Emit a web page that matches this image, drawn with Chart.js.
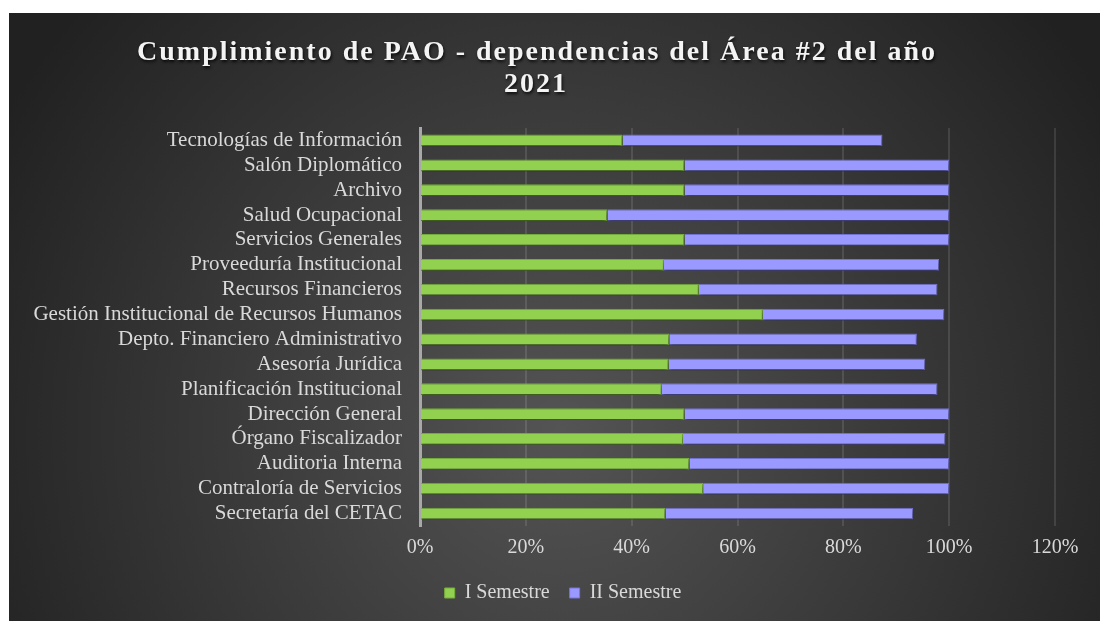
<!DOCTYPE html>
<html>
<head>
<meta charset="utf-8">
<script src="https://cdn.jsdelivr.net/npm/chart.js@4/dist/chart.umd.min.js"></script>
<style>
  html, body { margin: 0; padding: 0; background: #fff; }
  #wrap { width: 1100px; height: 621px; }
</style>
</head>
<body>
<div id="wrap"><canvas id="paoChart" width="1100" height="621"></canvas></div>
<script>
// datos del gráfico (en %)
const titleLines = ['Cumplimiento de PAO - dependencias del Área #2 del año', '2021'];
const categories = [
    'Tecnologías de Información',
    'Salón Diplomático',
    'Archivo',
    'Salud Ocupacional',
    'Servicios Generales',
    'Proveeduría Institucional',
    'Recursos Financieros',
    'Gestión Institucional de Recursos Humanos',
    'Depto. Financiero Administrativo',
    'Asesoría Jurídica',
    'Planificación Institucional',
    'Dirección General',
    'Órgano Fiscalizador',
    'Auditoria Interna',
    'Contraloría de Servicios',
    'Secretaría del CETAC'
];
const semestre1 = [38.3, 50, 50, 35.4, 50, 46.1, 52.7, 64.8, 47.1, 47.0, 45.7, 50, 49.7, 50.9, 53.5, 46.4];
const semestre2 = [49.1, 50, 50, 64.6, 50, 52.0, 45.1, 34.3, 46.8, 48.5, 52.1, 50, 49.6, 49.1, 46.5, 46.8];
const tickLabels = ['0%', '20%', '40%', '60%', '80%', '100%', '120%'];

const labelColor = '#d9d9d9';
const serif = '"Liberation Serif", "Times New Roman", serif';

// fondo con degradado radial + sombra de barras + título
const decor = {
    id: 'decor',
    afterLayout(chart) {
        // la leyenda de Excel queda un poco a la derecha del centro
        const lg = chart.legend;
        lg.left += 31;
        lg.right += 31;
    },
    beforeDraw(chart) {
        const c = chart.ctx;
        c.save();
        c.fillStyle = '#ffffff';
        c.fillRect(0, 0, chart.width, chart.height);
        const g = c.createRadialGradient(560, 430, 0, 560, 430, 640);
        g.addColorStop(0, '#545454');
        g.addColorStop(1, '#212121');
        c.fillStyle = g;
        c.fillRect(9, 13, chart.width - 9, chart.height - 13);
        c.restore();
    },
    beforeDatasetsDraw(chart) {
        const c = chart.ctx;
        c.save();
        c.shadowColor = 'rgba(0,0,0,0.55)';
        c.shadowBlur = 4;
        c.shadowOffsetY = 3;
    },
    afterDatasetsDraw(chart) {
        chart.ctx.restore();
    },
    afterDraw(chart) {
        const c = chart.ctx;
        c.save();
        c.font = 'bold 28px ' + serif;
        c.letterSpacing = '2px';
        c.textAlign = 'center';
        c.textBaseline = 'middle';
        c.fillStyle = '#f4f4f4';
        c.shadowColor = 'rgba(0,0,0,0.8)';
        c.shadowBlur = 3;
        c.shadowOffsetX = 1;
        c.shadowOffsetY = 2;
        c.fillText(titleLines[0], 537, 53);
        c.fillText(titleLines[1], 536, 85);
        c.restore();
    }
};

const ctx = document.getElementById('paoChart').getContext('2d');
const paoChart = new Chart(ctx, {
    type: 'bar',
    data: {
        labels: categories,
        datasets: [{
            label: 'I Semestre',
            data: semestre1,
            backgroundColor: '#92d050',
            borderColor: '#78b03c',
            borderWidth: 1,
            categoryPercentage: 0.47,
            barPercentage: 1
        }, {
            label: 'II Semestre',
            data: semestre2,
            backgroundColor: '#9999ff',
            borderColor: '#7676d6',
            borderWidth: 1,
            categoryPercentage: 0.47,
            barPercentage: 1
        }]
    },
    options: {
        indexAxis: 'y',
        responsive: false,
        animation: false,
        layout: { padding: { top: 128, left: 9, right: 45, bottom: 8 } },
        scales: {
            x: {
                stacked: true,
                min: 0,
                max: 120,
                afterFit: s => { s.height = 37; },
                ticks: {
                    stepSize: 20,
                    padding: 10,
                    color: labelColor,
                    font: { family: serif, size: 20 },
                    callback: (v, i) => tickLabels[i]
                },
                grid: {
                    drawTicks: false,
                    color: c => c.index === 0 ? 'rgba(0,0,0,0)' : 'rgba(255,255,255,0.11)',
                    lineWidth: 2
                },
                border: { display: false }
            },
            y: {
                stacked: true,
                afterFit: s => { s.width = 411; },
                ticks: {
                    autoSkip: false,
                    padding: 18,
                    color: labelColor,
                    font: { family: serif, size: 21 }
                },
                grid: { display: false, drawTicks: false },
                border: { color: '#a8a8a8', width: 3 }
            }
        },
        plugins: {
            legend: {
                position: 'bottom',
                labels: {
                    color: labelColor,
                    font: { family: serif, size: 20 },
                    boxWidth: 10,
                    boxHeight: 10,
                    padding: 20
                }
            },
            tooltip: { enabled: false }
        }
    },
    plugins: [decor]
});
</script>
</body>
</html>
